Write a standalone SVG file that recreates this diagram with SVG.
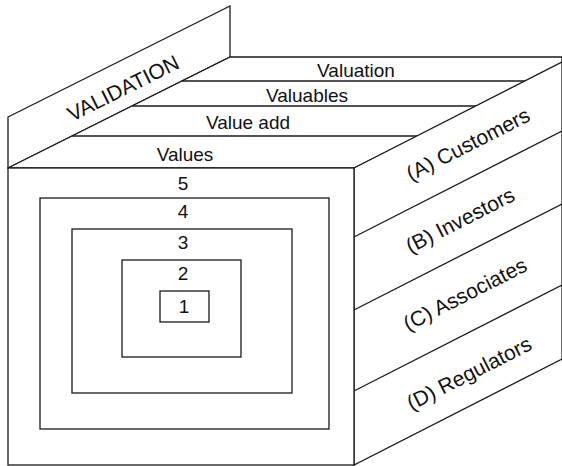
<svg xmlns="http://www.w3.org/2000/svg" width="562" height="466" viewBox="0 0 562 466">
  <style>
    .ln { fill: none; stroke: #1a1a1a; stroke-width: 1.3; }
    .bx { fill: #ffffff; stroke: #1a1a1a; stroke-width: 1.3; }
    .tx { font-family: "Liberation Sans", Arial, sans-serif; font-size: 19px; fill: #111111; text-anchor: middle; }
    .big { font-size: 21px; }
  </style>
  <rect x="0" y="0" width="562" height="466" fill="#ffffff"/>

  <!-- VALIDATION panel rising from the back of the top face -->
  <g id="validation">
    <polygon class="bx" points="8,117 230,6 230,57 8,168"/>
    <text class="tx big" x="0" y="0" dominant-baseline="central" transform="translate(123,88) rotate(-26.57)">VALIDATION</text>
  </g>

  <!-- Top face: four horizontal bands -->
  <g id="top-face">
    <polygon class="bx" points="8,168 230,57 562,57 562,64 354,168"/>
    <line class="ln" x1="182" y1="81" x2="525" y2="81"/>
    <line class="ln" x1="132" y1="106" x2="476" y2="106"/>
    <line class="ln" x1="72" y1="136" x2="417" y2="136"/>
    <text class="tx" x="356" y="76.5">Valuation</text>
    <text class="tx" x="307" y="101.5">Valuables</text>
    <text class="tx" x="248" y="128.5">Value add</text>
    <text class="tx" x="185" y="161">Values</text>
  </g>

  <!-- Right face: four slanted bands -->
  <g id="right-face">
    <polygon class="bx" points="354,168 562,62 562,359 354,465"/>
    <line class="ln" x1="354" y1="237" x2="562" y2="131"/>
    <line class="ln" x1="354" y1="310" x2="562" y2="204"/>
    <line class="ln" x1="354" y1="391" x2="562" y2="285"/>
    <text class="tx big" x="0" y="0" dominant-baseline="central" transform="translate(468,144) rotate(-27)">(A) Customers</text>
    <text class="tx big" x="0" y="0" dominant-baseline="central" transform="translate(460,220) rotate(-27)">(B) Investors</text>
    <text class="tx big" x="0" y="0" dominant-baseline="central" transform="translate(465,294) rotate(-27)">(C) Associates</text>
    <text class="tx big" x="0" y="0" dominant-baseline="central" transform="translate(469,373) rotate(-27)">(D) Regulators</text>
  </g>

  <!-- Front face with nested levels 5 to 1 -->
  <g id="level-5">
    <rect class="bx" x="8" y="168" width="346" height="297"/>
    <text class="tx" x="183" y="190">5</text>
  </g>
  <g id="level-4">
    <rect class="bx" x="40" y="198" width="289" height="231"/>
    <text class="tx" x="183" y="218">4</text>
  </g>
  <g id="level-3">
    <rect class="bx" x="72" y="229" width="220" height="164"/>
    <text class="tx" x="183" y="249">3</text>
  </g>
  <g id="level-2">
    <rect class="bx" x="122" y="260" width="119" height="97"/>
    <text class="tx" x="183" y="280">2</text>
  </g>
  <g id="level-1">
    <rect class="bx" x="160" y="291" width="49" height="31"/>
    <text class="tx" x="184" y="313">1</text>
  </g>

  <g id="connectors"/>
</svg>
